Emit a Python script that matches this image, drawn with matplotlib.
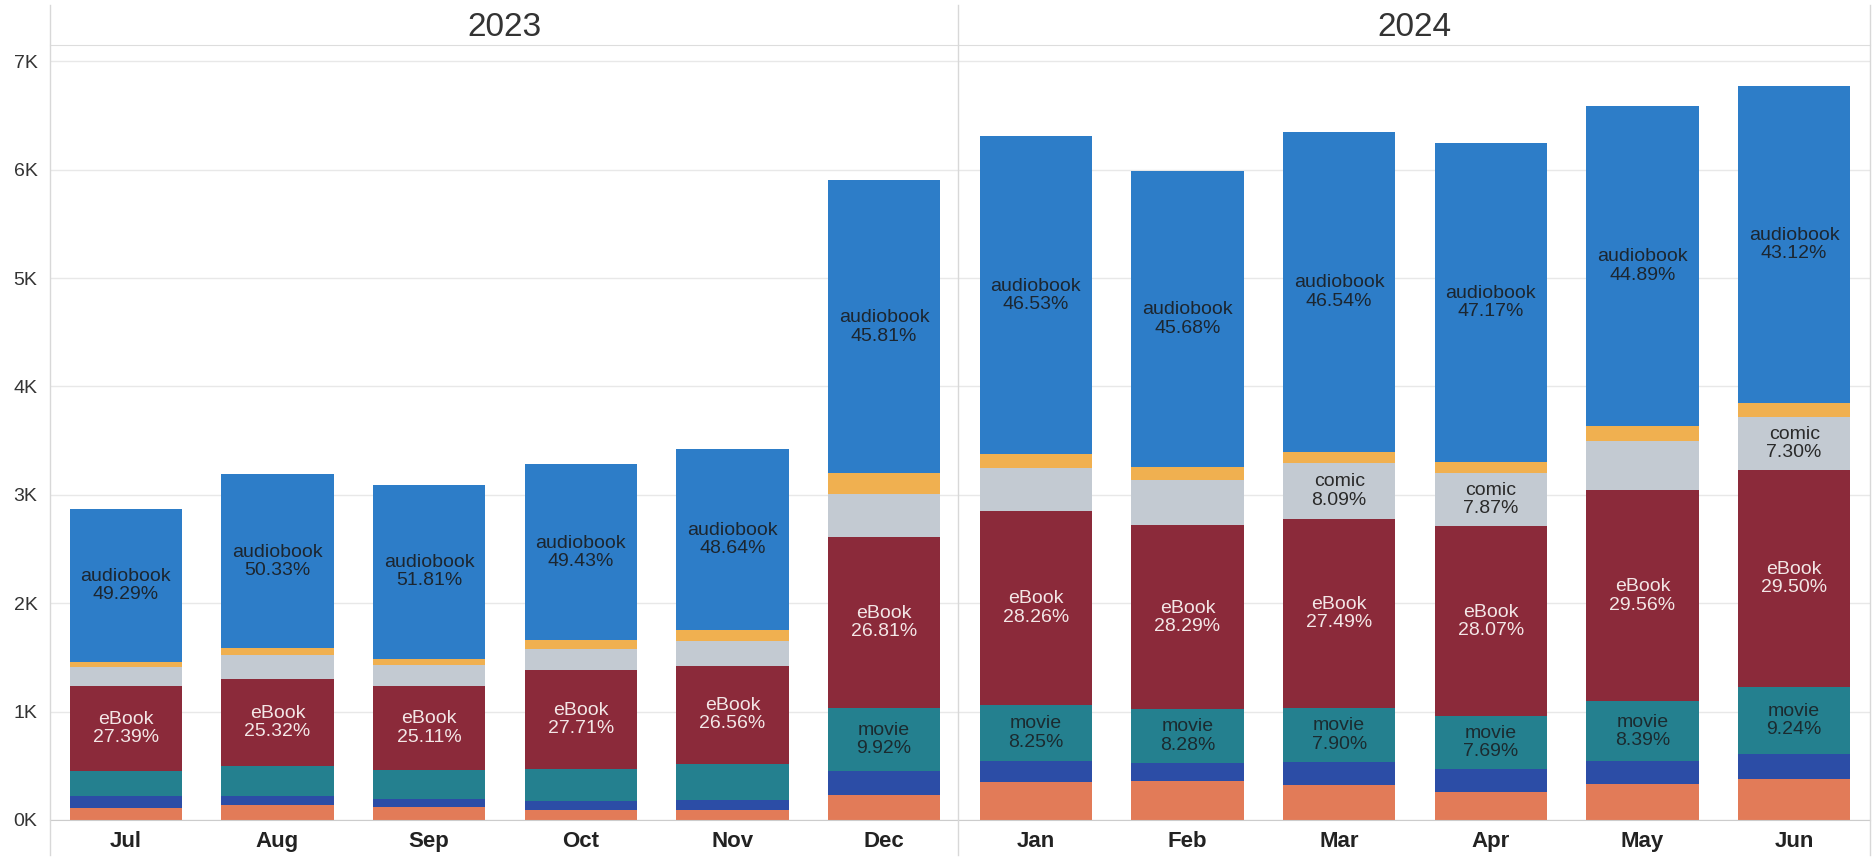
import matplotlib
matplotlib.use("Agg")
import matplotlib.pyplot as plt
from matplotlib.lines import Line2D
from matplotlib.ticker import FuncFormatter, MultipleLocator
import numpy as np

plt.rcParams['font.family'] = ['Liberation Sans', 'DejaVu Sans']

# meses (jul 2023 - jun 2024)
months = ['Jul', 'Aug', 'Sep', 'Oct', 'Nov', 'Dec', 'Jan', 'Feb', 'Mar', 'Apr', 'May', 'Jun']
years = ['2023', '2024']
totals = [2870, 3190, 3090, 3280, 3420, 5900, 6310, 5990, 6350, 6250, 6590, 6770]

# participación (%) de cada categoría, de abajo hacia arriba
share_orange = [3.7, 4.4, 4.0, 2.7, 2.8, 3.9, 5.6, 6.0, 5.15, 4.2, 5.0, 5.6]
share_navy = [4.0, 2.5, 2.2, 2.6, 2.7, 3.7, 3.0, 2.8, 3.23, 3.4, 3.2, 3.34]
share_movie = [8.12, 8.6, 8.75, 9.1, 9.6, 9.92, 8.25, 8.28, 7.90, 7.69, 8.39, 9.24]
share_ebook = [27.39, 25.32, 25.11, 27.71, 26.56, 26.81, 28.26, 28.29, 27.49, 28.07, 29.56, 29.50]
share_comic = [5.9, 6.95, 6.13, 6.0, 6.7, 6.66, 6.41, 7.05, 8.09, 7.87, 6.86, 7.30]
share_yellow = [1.6, 1.9, 2.0, 2.46, 3.0, 3.2, 1.95, 1.9, 1.6, 1.6, 2.1, 1.9]
share_audiobook = [49.29, 50.33, 51.81, 49.43, 48.64, 45.81, 46.53, 45.68, 46.54, 47.17, 44.89, 43.12]

# (nombre, participación, color, color del texto o None si no lleva etiqueta)
capas = [
    (None, share_orange, '#E27B58', None),
    (None, share_navy, '#2C4DA6', None),
    ('movie', share_movie, '#24808F', '#1b2b30'),
    ('eBook', share_ebook, '#8B2A3A', '#f3e6e6'),
    ('comic', share_comic, '#C3CAD2', '#2a2a2a'),
    (None, share_yellow, '#F0B050', None),
    ('audiobook', share_audiobook, '#2D7DC8', '#1c2630'),
]

W, H = 1876, 858
fig = plt.figure(figsize=(W / 100, H / 100), dpi=100)
ax = fig.add_axes([50 / W, (H - 820) / H, 1820 / W, (820 - 45) / H])

x = np.arange(len(months))
tot = np.array(totals, dtype=float)
base = np.zeros(len(months))
for nombre, share, color, txt_color in capas:
    vals = tot * np.array(share) / 100
    ax.bar(x, vals, width=0.74, bottom=base, color=color, zorder=2)
    if nombre is not None:
        for i in range(len(months)):
            if vals[i] >= 470:
                ax.text(x[i], base[i] + vals[i] / 2, f"{nombre}\n{share[i]:.2f}%",
                        ha='center', va='center', fontsize=14, color=txt_color,
                        linespacing=1.1, zorder=3)
    base += vals

ax.set_xlim(-0.5, len(months) - 0.5)
ax.set_ylim(0, 7150)
ax.yaxis.set_major_locator(MultipleLocator(1000))
ax.yaxis.set_major_formatter(FuncFormatter(lambda v, p: f"{v / 1000:.0f}K"))
ax.set_xticks(x)
ax.set_xticklabels(months, fontsize=16, fontweight='bold', color='#222222')
ax.tick_params(axis='x', length=0, pad=8)
ax.tick_params(axis='y', length=0, pad=9, labelsize=14, labelcolor='#333333')
ax.get_yticklabels()[0].set_verticalalignment('bottom')

ax.grid(axis='y', color='#e8e8e8', linewidth=1, zorder=0)
for lado in ['left', 'right']:
    ax.spines[lado].set_visible(False)
ax.spines['top'].set_color('#dddddd')
ax.spines['bottom'].set_color('#cccccc')

# separadores verticales (eje y, cambio de año, borde derecho)
for xp in [50, 958, 1870]:
    fig.add_artist(Line2D([xp / W, xp / W], [1 - 5 / H, 1 - 855 / H],
                          color='#d8d8d8', linewidth=1))

# encabezados de año
fig.text((50 + 958) / 2 / W, 1 - 28 / H, years[0], ha='center', va='center',
         fontsize=24, color='#333333')
fig.text((958 + 1870) / 2 / W, 1 - 28 / H, years[1], ha='center', va='center',
         fontsize=24, color='#333333')

fig.savefig('out.png', dpi=100, facecolor='white')
